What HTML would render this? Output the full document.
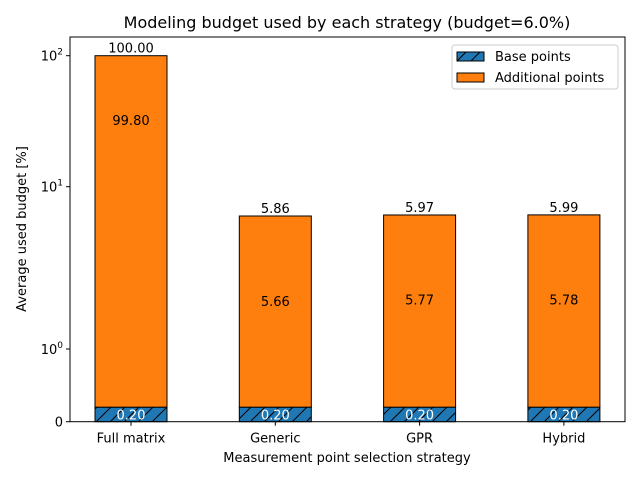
<!DOCTYPE html>
<html><head><meta charset="utf-8"><style>
body{margin:0;background:#fff}
svg{display:block;font-family:"DejaVu Sans","Liberation Sans",sans-serif}
</style></head><body>
<svg width="640" height="480" viewBox="0 0 640 480">
<defs>
<pattern id="hatch" patternUnits="userSpaceOnUse" width="14" height="14">
<rect width="14" height="14" fill="#1f77b4"/>
<path d="M-2,16 L16,-2 M-9,9 L9,-9 M5,23 L23,5" stroke="#000" stroke-width="1"/>
</pattern>
</defs>
<g id="plot"></g>
</svg>
<script>
const categories = ["Full matrix","Generic","GPR","Hybrid"];
const baseValues = [0.20,0.20,0.20,0.20];
const addValues = [99.80,5.66,5.77,5.78];
const totalLabels = ["100.00","5.86","5.97","5.99"];
const yTickValues = [0,1,10,100];
const yTickLabels = ["0","10<tspan dy='-6' font-size='9'>0</tspan>","10<tspan dy='-6' font-size='9'>1</tspan>","10<tspan dy='-6' font-size='9'>2</tspan>"];

const NS="http://www.w3.org/2000/svg";
const g=document.getElementById('plot');
const L=70,R=625,T=37,B=421.7;
function y(v){
  if(v<=1) return B - v*72.7;
  const lg=Math.log10(v);
  if(lg<=Math.log10(5.86)) return 349 - (lg/Math.log10(5.86))*(349-216);
  if(lg<=1) return 216 - ((lg-Math.log10(5.86))/(1-Math.log10(5.86)))*(216-186.7);
  return 186.7 - (lg-1)*131;
}
function xc(i){return 131 + i*144.3;}
const bw=72;
function el(tag,attrs,parent){const e=document.createElementNS(NS,tag);for(const k in attrs)e.setAttribute(k,attrs[k]);(parent||g).appendChild(e);return e;}

categories.forEach((c,i)=>{
  const x0=xc(i)-bw/2;
  const total=baseValues[i]+addValues[i];
  const yb=y(baseValues[i]), yt=y(total);
  const b=el('rect',{x:x0,y:yb,width:bw,height:B-yb,fill:'url(#hatch)',stroke:'#000','stroke-width':1});
  
  
  const a=el('rect',{x:x0,y:yt,width:bw,height:yb-yt,fill:'#ff7f0e',stroke:'#000','stroke-width':1});
  
  
  const t1=el('text',{x:xc(i),y:yt-3,'text-anchor':'middle','font-size':13,fill:'#000'});
  t1.textContent=totalLabels[i];
  
  
  const ym=y(total/3.1);
  const t2=el('text',{x:xc(i),y:ym+5,'text-anchor':'middle','font-size':13,fill:'#000'});
  t2.textContent=addValues[i].toFixed(2);
  
  
  const t3=el('text',{x:xc(i),y:(B+yb)/2+5,'text-anchor':'middle','font-size':13,fill:'#fff'});
  t3.textContent=baseValues[i].toFixed(2);
  
  
  el('line',{x1:xc(i),x2:xc(i),y1:B,y2:B+4,stroke:'#000'});
  const xl=el('text',{x:xc(i),y:B+21,'text-anchor':'middle','font-size':13});
  xl.textContent=c;
  
  
});
const fr=el('rect',{x:L,y:T,width:R-L,height:B-T,fill:'none',stroke:'#000','stroke-width':1});


yTickValues.forEach((v,i)=>{
  const yy=y(v);
  el('line',{x1:L-4,x2:L,y1:yy,y2:yy,stroke:'#000'});
  const t=el('text',{x:L-7,y:yy+5,'text-anchor':'end','font-size':13});
  t.innerHTML=yTickLabels[i];
  
  
});
const title=el('text',{x:347,y:28,'text-anchor':'middle','font-size':16});
title.textContent="Modeling budget used by each strategy (budget=6.0%)";


const xt=el('text',{x:347,y:462,'text-anchor':'middle','font-size':13});
xt.textContent="Measurement point selection strategy";


const yt=el('text',{x:0,y:0,'text-anchor':'middle','font-size':13,transform:'translate(26,229) rotate(-90)'});
yt.textContent="Average used budget [%]";


const lg=el('g',{});


el('rect',{x:452,y:45,width:166,height:44,rx:3,fill:'#fff',stroke:'#ccc'},lg);
el('rect',{x:457,y:52,width:27,height:9,fill:'url(#hatch)',stroke:'#000'},lg);
el('rect',{x:457,y:73,width:27,height:9,fill:'#ff7f0e',stroke:'#000'},lg);
const l1=el('text',{x:495,y:61,'font-size':13},lg);l1.textContent="Base points";


const l2=el('text',{x:495,y:82,'font-size':13},lg);l2.textContent="Additional points";


</script>
</body></html>
